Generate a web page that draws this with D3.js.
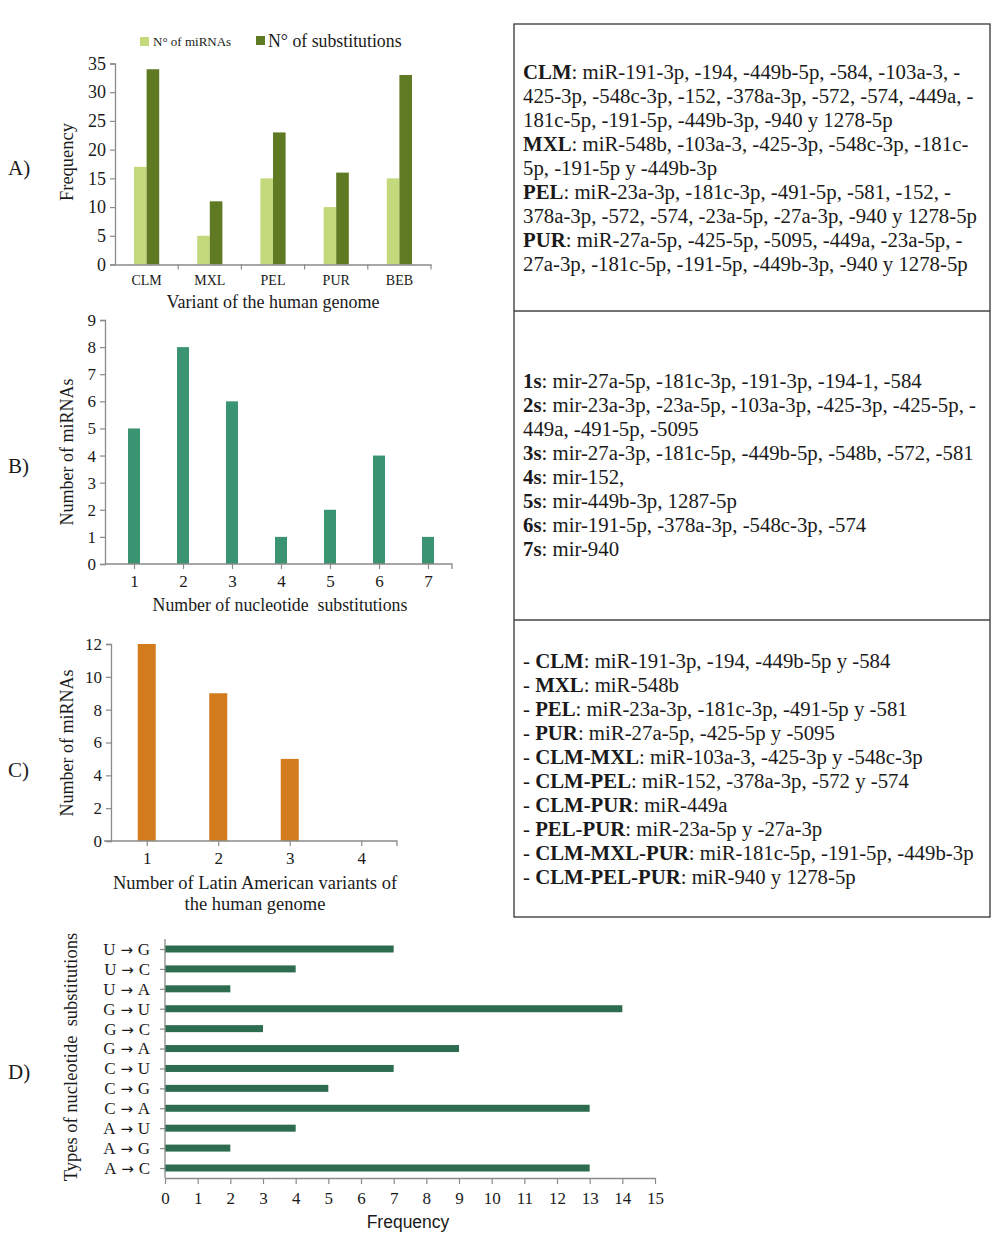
<!DOCTYPE html>
<html><head><meta charset="utf-8">
<script src="https://cdn.jsdelivr.net/npm/d3@7"></script>
<style>body{margin:0;background:#fff}svg{display:block}text{white-space:pre}</style>
</head><body>
<script>
// ---------- DATA ----------
const variantsA = ["CLM","MXL","PEL","PUR","BEB"];
const seriesA = ["N° of miRNAs","N° of substitutions"];
const miRNAsA = [17,5,15,10,15];
const substitutionsA = [34,11,23,16,33];
const yTicksA = [0,5,10,15,20,25,30,35];

const substB = [1,2,3,4,5,6,7];
const miRNAsB = [5,8,6,1,2,4,1];
const yTicksB = [0,1,2,3,4,5,6,7,8,9];

const latinC = [1,2,3,4];
const miRNAsC = [12,9,5,0];
const yTicksC = [0,2,4,6,8,10,12];

const typesD = ["U → G","U → C","U → A","G → U","G → C","G → A","C → U","C → G","C → A","A → U","A → G","A → C"];
const freqD = [7,4,2,14,3,9,7,5,13,4,2,13];
const xTicksD = [0,1,2,3,4,5,6,7,8,9,10,11,12,13,14,15];

const box1 = [
 [["CLM",1],[": miR-191-3p, -194, -449b-5p, -584, -103a-3, -",0]],
 [["425-3p, -548c-3p, -152, -378a-3p, -572, -574, -449a, -",0]],
 [["181c-5p, -191-5p, -449b-3p, -940 y 1278-5p",0]],
 [["MXL",1],[": miR-548b, -103a-3, -425-3p, -548c-3p, -181c-",0]],
 [["5p, -191-5p y -449b-3p",0]],
 [["PEL",1],[": miR-23a-3p, -181c-3p, -491-5p, -581, -152, -",0]],
 [["378a-3p, -572, -574, -23a-5p, -27a-3p, -940 y 1278-5p",0]],
 [["PUR",1],[": miR-27a-5p, -425-5p, -5095, -449a, -23a-5p, -",0]],
 [["27a-3p, -181c-5p, -191-5p, -449b-3p, -940 y 1278-5p",0]]
];
const box2 = [
 [["1s",1],[": mir-27a-5p, -181c-3p, -191-3p, -194-1, -584",0]],
 [["2s",1],[": mir-23a-3p, -23a-5p, -103a-3p, -425-3p, -425-5p, -",0]],
 [["449a, -491-5p, -5095",0]],
 [["3s",1],[": mir-27a-3p, -181c-5p, -449b-5p, -548b, -572, -581",0]],
 [["4s",1],[": mir-152,",0]],
 [["5s",1],[": mir-449b-3p, 1287-5p",0]],
 [["6s",1],[": mir-191-5p, -378a-3p, -548c-3p, -574",0]],
 [["7s",1],[": mir-940",0]]
];
const box3 = [
 [["- ",0],["CLM",1],[": miR-191-3p, -194, -449b-5p y -584",0]],
 [["- ",0],["MXL",1],[": miR-548b",0]],
 [["- ",0],["PEL",1],[": miR-23a-3p, -181c-3p, -491-5p y -581",0]],
 [["- ",0],["PUR",1],[": miR-27a-5p, -425-5p y -5095",0]],
 [["- ",0],["CLM-MXL",1],[": miR-103a-3, -425-3p y -548c-3p",0]],
 [["- ",0],["CLM-PEL",1],[": miR-152, -378a-3p, -572 y -574",0]],
 [["- ",0],["CLM-PUR",1],[": miR-449a",0]],
 [["- ",0],["PEL-PUR",1],[": miR-23a-5p y -27a-3p",0]],
 [["- ",0],["CLM-MXL-PUR",1],[": miR-181c-5p, -191-5p, -449b-3p",0]],
 [["- ",0],["CLM-PEL-PUR",1],[": miR-940 y 1278-5p",0]]
];

// ---------- DRAW ----------
const serif = "'Liberation Serif','Times New Roman',serif";
const sans = "'Liberation Sans',Arial,sans-serif";
const axisCol = "#8a8a8a", txt = "#1a1a1a";
const svg = d3.select("body").append("svg").attr("width",1000).attr("height",1247)
  .style("font-family",serif);

function styleAxis(g){
  g.select(".domain").attr("stroke",axisCol).attr("stroke-width",1.3);
  g.selectAll(".tick line").attr("stroke",axisCol).attr("stroke-width",1.2);
  g.selectAll(".tick text").attr("fill",txt).attr("font-family",serif);
}
function panelLabel(t,y){
  svg.append("text").attr("x",8).attr("y",y).attr("font-size",21).attr("fill",txt).text(t);
}
function vLabel(t,x,y,size,fam){
  svg.append("text").attr("transform",`translate(${x},${y}) rotate(-90)`).attr("text-anchor","middle")
   .attr("font-size",size).attr("font-family",fam||serif).attr("fill",txt).text(t);
}
function hLabel(t,x,y,size,fam){
  svg.append("text").attr("x",x).attr("y",y).attr("text-anchor","middle")
   .attr("font-size",size).attr("font-family",fam||serif).attr("fill",txt).text(t);
}
const fmtInt = d3.format("d");

// ---- Panel A ----
{
  const x = d3.scaleBand().domain(variantsA).range([115,431]).padding(0);
  const xs = d3.scaleBand().domain(seriesA).range([-12.6,12.6]);
  const y = d3.scaleLinear().domain([0,35]).range([264.5,63.5]);
  const cols = ["#c3d97c","#5f7a22"];
  const vals = [miRNAsA, substitutionsA];
  seriesA.forEach((s,si)=>{
    svg.append("g").selectAll("rect").data(variantsA).join("rect")
      .attr("x",d=>x(d)+x.bandwidth()/2+xs(s)).attr("width",xs.bandwidth())
      .attr("y",(d,i)=>y(vals[si][i])).attr("height",(d,i)=>y(0)-y(vals[si][i]))
      .attr("fill",cols[si]);
  });
  const gy = svg.append("g").attr("transform","translate(115,0)")
    .call(d3.axisLeft(y).tickValues(yTicksA).tickSize(5).tickPadding(4));
  styleAxis(gy); gy.selectAll(".tick text").attr("font-size",18);
  const gx = svg.append("g").attr("transform","translate(0,264.5)")
    .call(d3.axisBottom(x).tickSize(0).tickPadding(11));
  styleAxis(gx); gx.selectAll(".tick text").attr("font-size",14);
  gx.append("g").selectAll("line").data(variantsA).join("line")
    .attr("x1",d=>x(d)+x.bandwidth()).attr("x2",d=>x(d)+x.bandwidth()).attr("y1",0).attr("y2",5)
    .attr("stroke",axisCol).attr("stroke-width",1.2);
  // legend
  svg.append("rect").attr("x",140).attr("y",37).attr("width",9).attr("height",9).attr("fill",cols[0]);
  svg.append("text").attr("x",153).attr("y",46).attr("font-size",13).attr("fill",txt).text(seriesA[0]);
  svg.append("rect").attr("x",256).attr("y",36).attr("width",9).attr("height",9).attr("fill",cols[1]);
  svg.append("text").attr("x",268).attr("y",47).attr("font-size",17.8).attr("fill",txt).text(seriesA[1]);
  vLabel("Frequency",73,162,18.5);
  hLabel("Variant of the human genome",273,308,18);
  panelLabel("A)",175);
}

// ---- Panel B ----
{
  const x = d3.scaleLinear().domain([1,7]).range([134,428]);
  const y = d3.scaleLinear().domain([0,9]).range([564,320]);
  svg.append("g").selectAll("rect").data(substB).join("rect")
    .attr("x",d=>x(d)-6).attr("width",12)
    .attr("y",(d,i)=>y(miRNAsB[i])).attr("height",(d,i)=>y(0)-y(miRNAsB[i]))
    .attr("fill","#3a9472");
  const gy = svg.append("g").attr("transform","translate(105,0)")
    .call(d3.axisLeft(y).tickValues(yTicksB).tickFormat(fmtInt).tickSize(5).tickPadding(4));
  styleAxis(gy); gy.selectAll(".tick text").attr("font-size",17);
  const gx = svg.append("g").attr("transform","translate(0,564)")
    .call(d3.axisBottom(x).tickValues(substB).tickFormat(fmtInt).tickSize(5).tickPadding(6).tickSizeOuter(0));
  styleAxis(gx); gx.selectAll(".tick text").attr("font-size",17);
  gx.select(".domain").attr("d","M105,0H452V5");
  vLabel("Number of miRNAs",73,452,18);
  hLabel("Number of nucleotide  substitutions",280,611,17.8);
  panelLabel("B)",473);
}

// ---- Panel C ----
{
  const x = d3.scaleLinear().domain([0.5,4.5]).range([111,397]);
  const y = d3.scaleLinear().domain([0,12]).range([841,644]);
  svg.append("g").selectAll("rect").data(latinC).join("rect")
    .attr("x",d=>x(d)-9).attr("width",18)
    .attr("y",(d,i)=>y(miRNAsC[i])).attr("height",(d,i)=>y(0)-y(miRNAsC[i]))
    .attr("fill","#d27c1e");
  const gy = svg.append("g").attr("transform","translate(111,0)")
    .call(d3.axisLeft(y).tickValues(yTicksC).tickFormat(fmtInt).tickSize(5).tickPadding(4));
  styleAxis(gy); gy.selectAll(".tick text").attr("font-size",17);
  const gx = svg.append("g").attr("transform","translate(0,841)")
    .call(d3.axisBottom(x).tickValues(latinC).tickFormat(fmtInt).tickSize(5).tickPadding(6).tickSizeOuter(0));
  styleAxis(gx); gx.selectAll(".tick text").attr("font-size",17);
  gx.select(".domain").attr("d","M104,0H397V5");
  vLabel("Number of miRNAs",73,743,18);
  hLabel("Number of Latin American variants of",255,889,18.5);
  hLabel("the human genome",255,910,18.5);
  panelLabel("C)",777);
}

// ---- Panel D ----
{
  const x = d3.scaleLinear().domain([0,15]).range([165,655]);
  const y = d3.scalePoint().domain(typesD).range([949,1168]);
  svg.append("g").selectAll("rect").data(typesD).join("rect")
    .attr("x",x(0)).attr("y",d=>y(d)-3.5).attr("height",7)
    .attr("width",(d,i)=>x(freqD[i])-x(0))
    .attr("fill","#2d6c4f");
  const gy = svg.append("g").attr("transform","translate(165,0)")
    .call(d3.axisLeft(y).tickSize(5).tickPadding(10).tickSizeOuter(0));
  styleAxis(gy);
  gy.selectAll(".tick text").attr("font-size",17).each(function(d){
    const t = d3.select(this).text("");
    const parts = d.split(" → ");
    t.append("tspan").text(parts[0]);
    t.append("tspan").attr("font-family","'DejaVu Sans',sans-serif").attr("font-size",15).text(" → ");
    t.append("tspan").text(parts[1]);
  });
  gy.select(".domain").attr("d","M0,939V1178");
  const gx = svg.append("g").attr("transform","translate(0,1178)")
    .call(d3.axisBottom(x).tickValues(xTicksD).tickSize(6).tickPadding(8).tickSizeOuter(0));
  styleAxis(gx); gx.selectAll(".tick text").attr("font-size",17);
  vLabel("Types of nucleotide  substitutions",77,1057,18.5);
  hLabel("Frequency",408,1228,17.5,sans);
  panelLabel("D)",1079);
}

// ---- Text boxes ----
svg.append("rect").attr("x",514).attr("y",24).attr("width",476).attr("height",893)
  .attr("fill","none").attr("stroke","#444").attr("stroke-width",1.4);
[311,620].forEach(yy=>svg.append("line").attr("x1",514).attr("x2",990).attr("y1",yy).attr("y2",yy)
  .attr("stroke","#444").attr("stroke-width",1.4));
function box(lines,y0){
  lines.forEach((ln,i)=>{
    const t = svg.append("text").attr("x",523).attr("y",y0+i*24).attr("font-size",20.8).attr("fill",txt);
    ln.forEach(([s,b])=>t.append("tspan").attr("font-weight",b?"bold":"normal").text(s));
  });
}
box(box1,79);
box(box2,388);
box(box3,668);
</script>
</body></html>
